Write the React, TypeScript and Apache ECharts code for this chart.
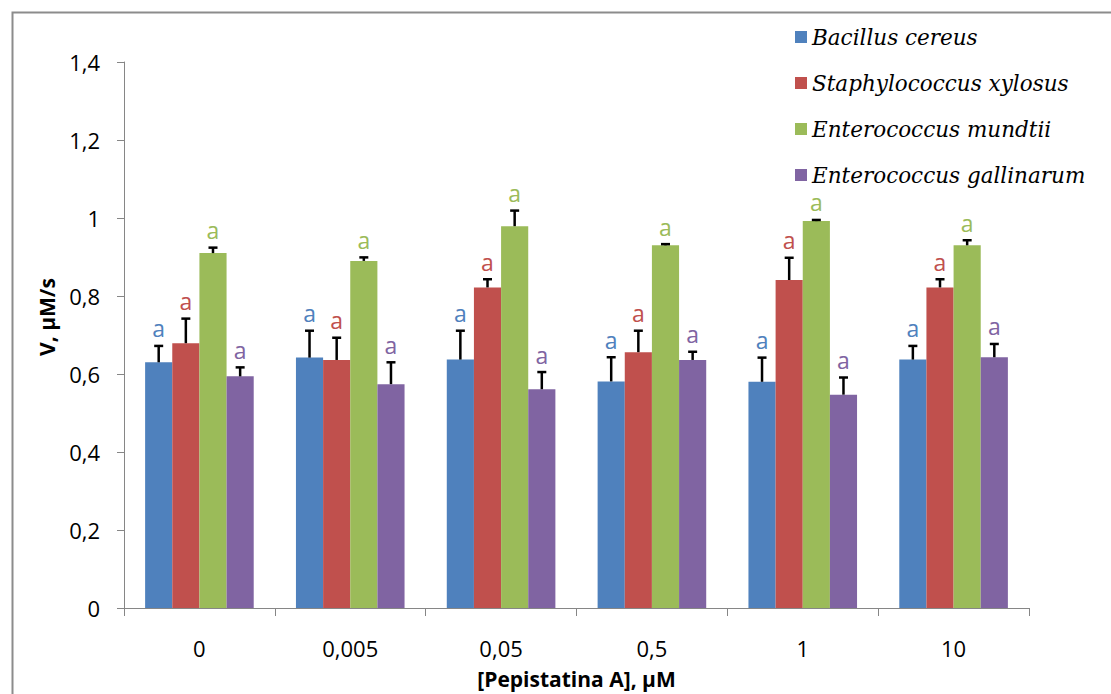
import React, { useEffect, useRef } from "react";
import * as echarts from "echarts";

// Pepstatin A concentration groups (µM)
const categories = ["0", "0,005", "0,05", "0,5", "1", "10"];

const speciesNames = [
  "Bacillus cereus",
  "Staphylococcus xylosus",
  "Enterococcus mundtii",
  "Enterococcus gallinarum",
];

// Mean velocity, µM/s
const bacillusCereus = [0.63, 0.642, 0.637, 0.581, 0.58, 0.637];
const staphylococcusXylosus = [0.679, 0.636, 0.822, 0.656, 0.841, 0.822];
const enterococcusMundtii = [0.91, 0.89, 0.979, 0.93, 0.992, 0.93];
const enterococcusGallinarum = [0.594, 0.574, 0.561, 0.636, 0.547, 0.643];

// Standard deviations (upper error bars)
const bacillusCereusErr = [0.042, 0.069, 0.074, 0.062, 0.062, 0.035];
const staphylococcusXylosusErr = [0.063, 0.057, 0.021, 0.055, 0.057, 0.021];
const enterococcusMundtiiErr = [0.014, 0.009, 0.04, 0.003, 0.003, 0.013];
const enterococcusGallinarumErr = [0.023, 0.056, 0.044, 0.021, 0.044, 0.034];

// Significance letters
const bacillusCereusSig = ["a", "a", "a", "a", "a", "a"];
const staphylococcusXylosusSig = ["a", "a", "a", "a", "a", "a"];
const enterococcusMundtiiSig = ["a", "a", "a", "a", "a", "a"];
const enterococcusGallinarumSig = ["a", "a", "a", "a", "a", "a"];

const colors = ["#4F81BD", "#C0504D", "#9BBB59", "#8064A2"];

const values = [bacillusCereus, staphylococcusXylosus, enterococcusMundtii, enterococcusGallinarum];
const errors = [bacillusCereusErr, staphylococcusXylosusErr, enterococcusMundtiiErr, enterococcusGallinarumErr];
const letters = [bacillusCereusSig, staphylococcusXylosusSig, enterococcusMundtiiSig, enterococcusGallinarumSig];

const CATEGORY_GAP = 0.28;
const SANS = '"Open Sans", "Liberation Sans", sans-serif';

export default function App() {
  const ref = useRef<HTMLDivElement>(null);

  useEffect(() => {
    if (!ref.current) return;
    const chart = echarts.init(ref.current, null, { renderer: "svg" });

    const barSeries = speciesNames.map((name, s) => ({
      name,
      type: "bar",
      data: values[s],
      barGap: "0%",
      barCategoryGap: `${CATEGORY_GAP * 100}%`,
      itemStyle: { color: colors[s] },
      z: 2,
    }));

    const errorSeries = speciesNames.map((name, s) => ({
      name: `${name} SD`,
      type: "custom",
      z: 5,
      clip: false,
      data: values[s].map((v, i) => [i, v, errors[s][i]]),
      renderItem: (params: any, api: any) => {
        const idx = api.value(0);
        const v = api.value(1);
        const e = api.value(2);
        const band = api.size([1, 0])[0];
        const groupW = band * (1 - CATEGORY_GAP);
        const barW = groupW / speciesNames.length;
        const base = api.coord([idx, v]);
        const top = api.coord([idx, v + e]);
        const x = base[0] - groupW / 2 + barW * (s + 0.5);
        const cap = 4.5;
        return {
          type: "group",
          children: [
            {
              type: "line",
              shape: { x1: x, y1: base[1], x2: x, y2: top[1] },
              style: { stroke: "#000", lineWidth: 2.5 },
            },
            {
              type: "line",
              shape: { x1: x - cap, y1: top[1], x2: x + cap, y2: top[1] },
              style: { stroke: "#000", lineWidth: 2.5 },
            },
            {
              type: "text",
              x,
              y: top[1] - 6,
              style: {
                text: letters[s][params.dataIndex],
                fill: colors[s],
                font: `23px ${SANS}`,
                align: "center",
                verticalAlign: "bottom",
              },
            },
          ],
        };
      },
    }));

    chart.setOption({
      animation: false,
      backgroundColor: "#fff",
      grid: { left: 124, right: 82, top: 62, bottom: 81, containLabel: false },
      legend: {
        data: speciesNames,
        orient: "vertical",
        left: 790,
        top: 20,
        padding: 5,
        itemWidth: 12,
        itemHeight: 12,
        itemGap: 22,
        icon: "rect",
        textStyle: {
          fontFamily: '"DejaVu Serif", serif',
          fontStyle: "italic",
          fontSize: 21.5,
          lineHeight: 24,
          color: "#000",
        },
      },
      xAxis: {
        type: "category",
        data: categories,
        name: "[Pepistatina A], µM",
        nameLocation: "middle",
        nameGap: 60,
        nameTextStyle: { fontFamily: SANS, fontSize: 21, fontWeight: "bold", color: "#000" },
        axisLine: { lineStyle: { color: "#868686", width: 1 } },
        axisTick: { show: true, length: 8, lineStyle: { color: "#868686" } },
        axisLabel: { fontFamily: SANS, fontSize: 22, color: "#000", margin: 29 },
        splitLine: { show: false },
      },
      yAxis: {
        type: "value",
        min: 0,
        max: 1.4,
        interval: 0.2,
        axisLine: { show: true, lineStyle: { color: "#868686", width: 1 } },
        axisTick: { show: true, length: 7, lineStyle: { color: "#868686" } },
        axisLabel: {
          fontFamily: SANS,
          fontSize: 22,
          color: "#000",
          margin: 24,
          formatter: (v: number) => String(parseFloat(v.toFixed(2))).replace(".", ","),
        },
        splitLine: { show: false },
      },
      graphic: [
        {
          type: "rect",
          left: 10,
          top: 10,
          shape: { width: 1200, height: 800 },
          style: { fill: "none", stroke: "#8c8c8c", lineWidth: 2 },
          silent: true,
          z: 0,
        },
        {
          type: "text",
          x: 47,
          y: 317,
          rotation: Math.PI / 2,
          style: {
            text: "V, µM/s",
            font: `bold 21px ${SANS}`,
            fill: "#000",
            align: "center",
            verticalAlign: "middle",
          },
        },
      ],
      series: [...barSeries, ...errorSeries],
    });

    return () => chart.dispose();
  }, []);

  return (
    <div
      ref={ref}
      style={{ position: "fixed", left: 0, top: 0, width: 1111, height: 694, background: "#fff" }}
    />
  );
}
